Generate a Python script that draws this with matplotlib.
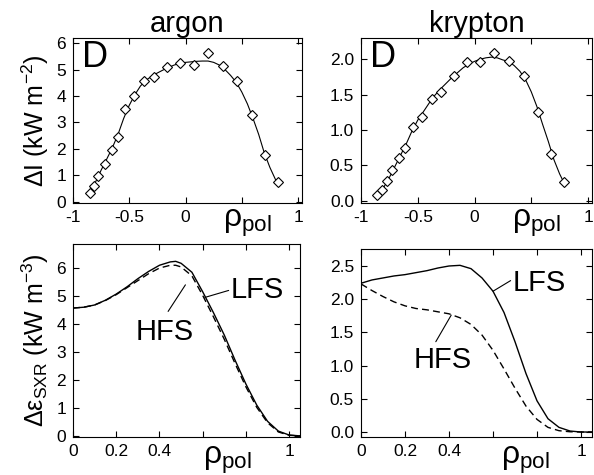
import numpy as np
import matplotlib
matplotlib.use('Agg')
import matplotlib.pyplot as plt

plt.rcParams['font.family'] = ['Liberation Sans', 'DejaVu Sans']
plt.rcParams['mathtext.fontset'] = 'custom'
plt.rcParams['mathtext.rm'] = 'Liberation Sans'
plt.rcParams['mathtext.it'] = 'Liberation Sans'
plt.rcParams['mathtext.sf'] = 'Liberation Sans'

# line-integrated brightness, measured points (diamonds)
ar_rho = [-0.853, -0.816, -0.778, -0.719, -0.655, -0.603, -0.538, -0.459, -0.371, -0.278,
          -0.169, -0.053, 0.073, 0.196, 0.333, 0.456, 0.588, 0.708, 0.822]
ar_dI = [0.33, 0.62, 0.99, 1.43, 1.96, 2.46, 3.50, 4.00, 4.55, 4.70,
         5.08, 5.23, 5.18, 5.61, 5.12, 4.58, 3.28, 1.77, 0.77]
kr_rho = [-0.861, -0.817, -0.774, -0.725, -0.664, -0.610, -0.543, -0.465, -0.378, -0.292,
          -0.182, -0.067, 0.048, 0.173, 0.308, 0.438, 0.563, 0.678, 0.784]
kr_dI = [0.08, 0.16, 0.28, 0.43, 0.61, 0.75, 1.05, 1.19, 1.44, 1.54,
         1.77, 1.96, 1.96, 2.09, 1.98, 1.76, 1.25, 0.66, 0.26]

# fitted brightness profiles
fit_rho_ar = [-0.86, -0.8, -0.75, -0.7, -0.65, -0.6, -0.55, -0.5, -0.45, -0.4, -0.35, -0.3,
              -0.25, -0.2, -0.15, -0.1, -0.05, 0.0, 0.05, 0.1, 0.15, 0.2, 0.25, 0.3, 0.35,
              0.4, 0.45, 0.5, 0.55, 0.6, 0.65, 0.7, 0.75, 0.8, 0.83]
fit_ar = [0.28, 0.75, 1.20, 1.62, 2.05, 2.55, 3.15, 3.65, 4.05, 4.38, 4.60, 4.75,
          4.87, 4.98, 5.08, 5.17, 5.23, 5.27, 5.29, 5.31, 5.32, 5.32, 5.27, 5.17, 5.00,
          4.78, 4.52, 4.15, 3.70, 3.15, 2.55, 1.85, 1.30, 0.84, 0.66]
fit_rho_kr = [-0.86, -0.8, -0.75, -0.7, -0.65, -0.6, -0.55, -0.5, -0.45, -0.4, -0.35, -0.3,
              -0.25, -0.2, -0.15, -0.1, -0.05, 0.0, 0.05, 0.1, 0.15, 0.2, 0.25, 0.3, 0.35,
              0.4, 0.45, 0.5, 0.55, 0.6, 0.65, 0.7, 0.75, 0.79]
fit_kr = [0.07, 0.19, 0.33, 0.49, 0.65, 0.81, 0.99, 1.14, 1.26, 1.38, 1.49, 1.58,
          1.66, 1.74, 1.81, 1.88, 1.93, 1.97, 2.00, 2.02, 2.03, 2.02, 1.99, 1.97, 1.91,
          1.83, 1.71, 1.54, 1.33, 1.08, 0.84, 0.58, 0.38, 0.25]

# local emissivity profiles, LFS (solid) and HFS (dashed)
eps_rho_ar = [0.0, 0.05, 0.1, 0.15, 0.2, 0.25, 0.3, 0.35, 0.4, 0.45, 0.475, 0.5, 0.55,
              0.6, 0.65, 0.7, 0.75, 0.8, 0.85, 0.9, 0.95, 1.0, 1.05]
eps_ar_lfs = [4.57, 4.60, 4.68, 4.85, 5.07, 5.33, 5.62, 5.88, 6.10, 6.22, 6.24, 6.17, 5.85,
              5.15, 4.40, 3.60, 2.70, 1.85, 1.10, 0.52, 0.17, 0.03, 0.0]
eps_ar_hfs = [4.57, 4.60, 4.68, 4.84, 5.05, 5.30, 5.55, 5.80, 6.00, 6.10, 6.10, 6.04, 5.72,
              5.02, 4.25, 3.45, 2.58, 1.75, 1.02, 0.47, 0.14, 0.02, 0.0]
eps_rho_kr = [0.0, 0.05, 0.1, 0.15, 0.2, 0.25, 0.3, 0.35, 0.4, 0.45, 0.5, 0.55, 0.6,
              0.65, 0.7, 0.75, 0.8, 0.85, 0.9, 0.95, 1.0, 1.05]
eps_kr_lfs = [2.24, 2.29, 2.32, 2.35, 2.37, 2.40, 2.43, 2.47, 2.50, 2.51, 2.46, 2.32, 2.12,
              1.80, 1.36, 0.88, 0.47, 0.20, 0.07, 0.015, 0.0, 0.0]
eps_kr_hfs = [2.23, 2.13, 2.04, 1.96, 1.90, 1.86, 1.84, 1.81, 1.78, 1.72, 1.62, 1.46, 1.23,
              0.95, 0.66, 0.39, 0.19, 0.07, 0.02, 0.004, 0.0, 0.0]

W, H = 594, 475
fig = plt.figure(figsize=(W / 100, H / 100), dpi=100)


def box(x0, x1, y0, y1):
    return [x0 / W, 1 - y1 / H, (x1 - x0) / W, (y1 - y0) / H]


ax1 = fig.add_axes(box(73, 302, 38, 203))
ax2 = fig.add_axes(box(361, 592, 38, 203))
ax3 = fig.add_axes(box(73, 300, 244, 437))
ax4 = fig.add_axes(box(361, 592, 249, 437))

rho_lbl = r'$\rho_{\mathrm{pol}}$'

for ax in (ax1, ax2, ax3, ax4):
    ax.tick_params(direction='in', top=True, right=True, length=4, width=0.8,
                   labelsize=12.5, pad=5)
    for s in ax.spines.values():
        s.set_linewidth(0.8)

# top row
for ax, x, y, fx, fy in ((ax1, ar_rho, ar_dI, fit_rho_ar, fit_ar),
                         (ax2, kr_rho, kr_dI, fit_rho_kr, fit_kr)):
    ax.plot(fx, fy, color='black', lw=0.8)
    ax.plot(x, y, 'D', ms=5, mfc='white', mec='black', mew=0.8)
    ax.set_xlim(-1, 1.035)
    ax.set_xticks([-1, -0.5, 0, 0.5, 1])
    ax.set_xticklabels(['-1', '-0.5', '0', '', '1'])
    ax.text(0.04, 0.99, 'D', transform=ax.transAxes, fontsize=26, va='top', ha='left')
    ax.text(0.76, -0.03, rho_lbl, transform=ax.transAxes, fontsize=23, va='top', ha='center')

ax1.set_ylim(-0.04, 6.19)
ax1.set_yticks(range(0, 7))
ax2.set_ylim(-0.03, 2.3)
ax2.set_yticks([0, 0.5, 1.0, 1.5, 2.0])
ax2.set_yticklabels(['0.0', '0.5', '1.0', '1.5', '2.0'])
ax1.set_title('argon', fontsize=21, pad=4)
ax2.set_title('krypton', fontsize=21, pad=4)
ax1.set_ylabel('ΔI (kW m$^{-2}$)', fontsize=18, labelpad=4)

# bottom row
ax3.plot(eps_rho_ar, eps_ar_lfs, color='black', lw=1.0)
ax3.plot(eps_rho_ar, eps_ar_hfs, color='black', lw=1.0, dashes=(5, 3))
ax4.plot(eps_rho_kr, eps_kr_lfs, color='black', lw=1.0)
ax4.plot(eps_rho_kr, eps_kr_hfs, color='black', lw=1.0, dashes=(5, 3))

for ax in (ax3, ax4):
    ax.set_xlim(0, 1.05)
    ax.set_xticks([0, 0.2, 0.4, 0.6, 0.8, 1.0])
    ax.set_xticklabels(['0', '0.2', '0.4', '', '', '1'])

ax3.text(0.68, -0.04, rho_lbl, transform=ax3.transAxes, fontsize=23, va='top', ha='center')
ax4.text(0.71, -0.04, rho_lbl, transform=ax4.transAxes, fontsize=23, va='top', ha='center')

ax3.set_ylim(-0.04, 6.86)
ax3.set_yticks(range(0, 7))
ax4.set_ylim(-0.075, 2.756)
ax4.set_yticks([0, 0.5, 1.0, 1.5, 2.0, 2.5])
ax4.set_yticklabels(['0.0', '0.5', '1.0', '1.5', '2.0', '2.5'])
ax3.set_ylabel('Δε$_{\\mathrm{SXR}}$ (kW m$^{-3}$)', fontsize=18, labelpad=4)

# LFS / HFS labels with leader lines
ax3.annotate('', xy=(0.61, 4.95), xytext=(0.72, 5.2),
             arrowprops=dict(arrowstyle='-', lw=0.8, shrinkA=0, shrinkB=0))
ax3.text(0.73, 5.2, 'LFS', fontsize=21, va='center', ha='left')
ax3.annotate('', xy=(0.52, 5.4), xytext=(0.44, 4.45),
             arrowprops=dict(arrowstyle='-', lw=0.8, shrinkA=0, shrinkB=0))
ax3.text(0.425, 3.7, 'HFS', fontsize=21, va='center', ha='center')

ax4.annotate('', xy=(0.60, 2.12), xytext=(0.68, 2.28),
             arrowprops=dict(arrowstyle='-', lw=0.8, shrinkA=0, shrinkB=0))
ax4.text(0.69, 2.24, 'LFS', fontsize=21, va='center', ha='left')
ax4.annotate('', xy=(0.41, 1.76), xytext=(0.34, 1.36),
             arrowprops=dict(arrowstyle='-', lw=0.8, shrinkA=0, shrinkB=0))
ax4.text(0.37, 1.08, 'HFS', fontsize=21, va='center', ha='center')

fig.savefig('out.png', dpi=100)
